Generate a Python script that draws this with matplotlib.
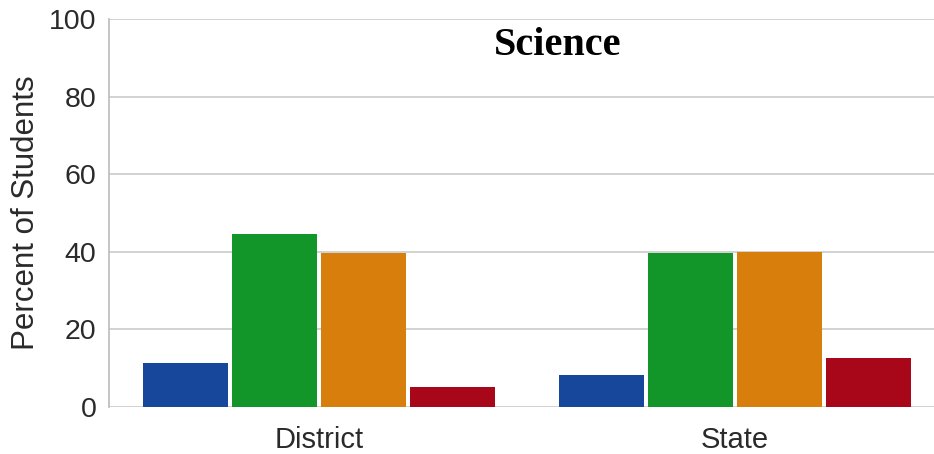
import matplotlib.pyplot as plt
import numpy as np

# percent of students per performance level, grouped by district / state
groups = ["District", "State"]
levels = ["Level 1", "Level 2", "Level 3", "Level 4"]
district = [11.3, 44.6, 39.7, 5.2]
state = [8.2, 39.7, 40.0, 12.6]
colors = ["#17479b", "#12962a", "#d87e0c", "#a8071a"]

fig = plt.figure(figsize=(9.34, 4.54), dpi=100)
ax = fig.add_axes([0.1167, 0.1035, 0.8833, 0.8546])

x = np.arange(len(groups))
step = 0.214
width = 0.204
for i, lvl in enumerate(levels):
    vals = [district[i], state[i]]
    ax.bar(x + (i - 1.5) * step, vals, width, color=colors[i], label=lvl, zorder=3)

ax.set_xlim(-0.505, 1.478)
ax.set_ylim(0, 100)
ax.set_yticks([0, 20, 40, 60, 80, 100])
ax.set_xticks(x)
ax.set_xticklabels(groups)

ax.grid(axis="y", color="#cfcfcf", linewidth=1.3, zorder=0)
for side in ["top", "right", "bottom"]:
    ax.spines[side].set_visible(False)
ax.spines["left"].set_color("#bbbbbb")
ax.spines["left"].set_linewidth(1.2)
ax.tick_params(length=0, labelcolor="#2a2a2a")
ax.tick_params(axis="x", pad=14, labelsize=21)
ax.tick_params(axis="y", pad=9, labelsize=20.5)
for lbl in ax.get_xticklabels() + ax.get_yticklabels():
    lbl.set_fontfamily("Liberation Sans")

ax.set_ylabel("Percent of Students", fontsize=22.5, family="Liberation Sans",
              color="#2a2a2a", labelpad=6)
ax.text(0.544, 0.932, "Science", transform=ax.transAxes, ha="center", va="center",
        fontsize=29, fontweight="bold", family="Liberation Serif")

fig.savefig("out.png", dpi=100)
